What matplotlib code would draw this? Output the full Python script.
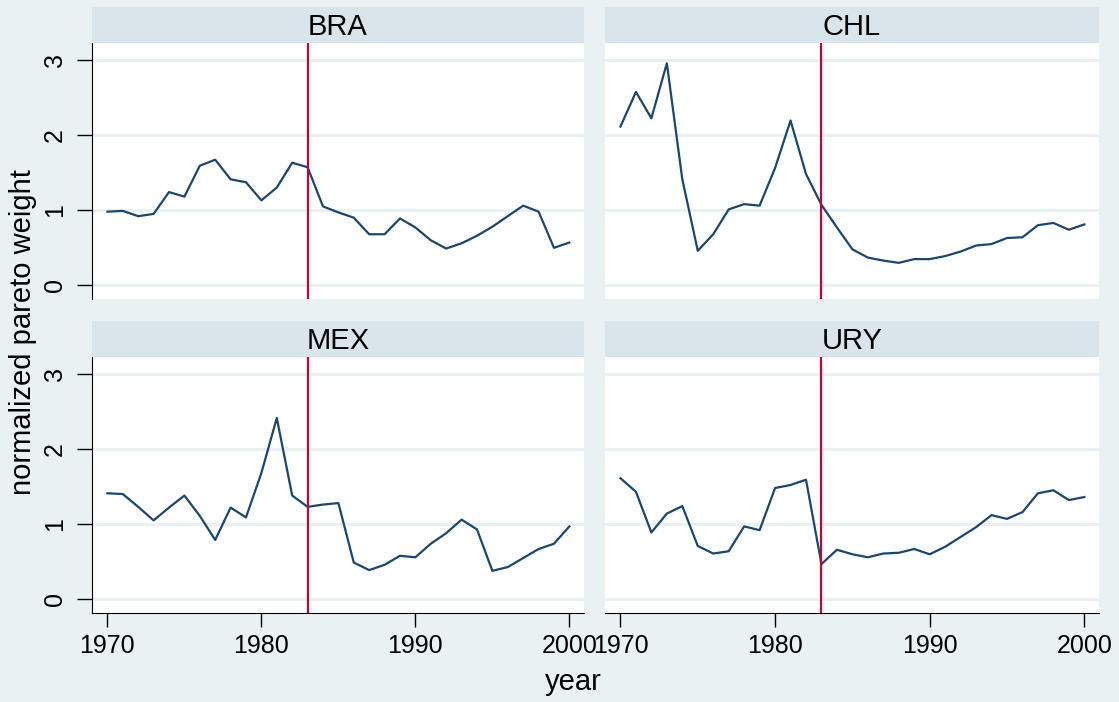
import numpy as np
import matplotlib
matplotlib.use('Agg')
import matplotlib.pyplot as plt

plt.rcParams['font.family'] = ['Liberation Sans', 'DejaVu Sans']

years = list(range(1970, 2001))
countries = ['BRA', 'CHL', 'MEX', 'URY']

bra = [0.98, 0.99, 0.92, 0.95, 1.24, 1.18, 1.59, 1.67, 1.41, 1.37, 1.13,
       1.30, 1.63, 1.57, 1.05, 0.97, 0.90, 0.68, 0.68, 0.89, 0.77,
       0.60, 0.49, 0.56, 0.66, 0.78, 0.92, 1.06, 0.98, 0.50, 0.57]
chl = [2.11, 2.57, 2.22, 2.95, 1.41, 0.46, 0.68, 1.01, 1.08, 1.06, 1.56,
       2.19, 1.48, 1.07, 0.77, 0.48, 0.37, 0.33, 0.30, 0.35, 0.35,
       0.39, 0.45, 0.53, 0.55, 0.63, 0.64, 0.80, 0.83, 0.74, 0.81]
mex = [1.41, 1.40, 1.23, 1.05, 1.22, 1.38, 1.11, 0.79, 1.22, 1.09, 1.68,
       2.41, 1.38, 1.23, 1.26, 1.28, 0.49, 0.39, 0.46, 0.58, 0.56,
       0.74, 0.88, 1.06, 0.93, 0.38, 0.43, 0.55, 0.67, 0.74, 0.97]
ury = [1.61, 1.43, 0.89, 1.14, 1.24, 0.71, 0.61, 0.64, 0.97, 0.92, 1.48,
       1.52, 1.59, 0.47, 0.66, 0.60, 0.56, 0.61, 0.62, 0.67, 0.60,
       0.70, 0.83, 0.96, 1.12, 1.07, 1.16, 1.41, 1.45, 1.32, 1.36]
series = [bra, chl, mex, ury]

break_year = 1983
yticks = [0, 1, 2, 3]
xticks = [1970, 1980, 1990, 2000]

bg = '#eaf1f3'
strip_col = '#d9e5eb'
grid_col = '#eaf1f3'
line_col = '#1a476f'
red_col = '#c10534'

W, H = 1119, 702
fig = plt.figure(figsize=(W / 100, H / 100), dpi=100, facecolor=bg)

# panel boxes in pixels: left, top, right, bottom
boxes = [(92, 43, 584, 299), (605, 43, 1099, 299),
         (92, 357, 584, 613), (605, 357, 1099, 613)]
strip_h = 36

for i, (name, vals) in enumerate(zip(countries, series)):
    l, t, r, b = boxes[i]
    ax = fig.add_axes([l / W, 1 - b / H, (r - l) / W, (b - t) / H])
    ax.set_facecolor('white')
    ax.plot(years, vals, color=line_col, lw=1.6, zorder=3)
    ax.axvline(break_year, color=red_col, lw=1.6, zorder=4)
    ax.set_xlim(1969.0, 2000.95)
    ax.set_ylim(-0.18, 3.22)
    ax.set_yticks(yticks)
    ax.set_xticks(xticks)
    ax.grid(axis='y', color=grid_col, lw=2.2, zorder=0)
    for s in ['top', 'right', 'left', 'bottom']:
        ax.spines[s].set_visible(False)
    left_col = i % 2 == 0
    bottom_row = i >= 2
    if left_col:
        ax.spines['left'].set_visible(True)
        ax.spines['left'].set_color('black')
        ax.tick_params(axis='y', length=11, width=1, labelsize=18, pad=7)
        for lab in ax.get_yticklabels():
            lab.set_rotation(90)
            lab.set_va('center')
    else:
        ax.tick_params(axis='y', length=0, labelleft=False)
    if bottom_row:
        ax.spines['bottom'].set_visible(True)
        ax.spines['bottom'].set_color('black')
        ax.tick_params(axis='x', length=10, width=1, labelsize=18, pad=5)
    else:
        ax.tick_params(axis='x', length=0, labelbottom=False)

    # strip header
    sax = fig.add_axes([l / W, 1 - t / H, (r - l) / W, strip_h / H])
    sax.set_facecolor(strip_col)
    sax.set_xticks([])
    sax.set_yticks([])
    for s in sax.spines.values():
        s.set_visible(False)
    sax.text(0.5, 0.45, name, ha='center', va='center', fontsize=21,
             transform=sax.transAxes)

fig.text(23 / W, 1 - 332 / H, 'normalized pareto weight', rotation=90,
         ha='center', va='center', fontsize=21)
fig.text(573 / W, 1 - 682 / H, 'year', ha='center', va='center', fontsize=21)

plt.savefig('out.png', dpi=100, facecolor=bg)
